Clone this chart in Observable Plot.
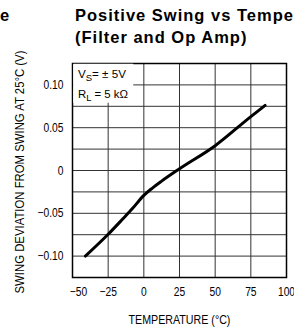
<!DOCTYPE html>
<html>
<head>
<meta charset="utf-8">
<script src="https://cdn.jsdelivr.net/npm/d3@7"></script>
<script src="https://cdn.jsdelivr.net/npm/@observablehq/plot@0.6"></script>
<style>
  html, body { margin: 0; padding: 0; background: #fff; overflow: hidden; }
  #wrap { position: relative; width: 294px; height: 331px; overflow: hidden; }
  .title { position: absolute; white-space: nowrap; font-family: "Liberation Sans", Arial, sans-serif;
           font-weight: bold; font-size: 16.5px; letter-spacing: 1px; line-height: 22.5px; color: #000; }
  #chart { position: absolute; left: 0; top: 0; }
</style>
</head>
<body>
<div id="wrap">
  <div id="chart"></div>
  <div class="title" style="left:75px; top:3.5px;">Positive Swing vs Temperature<br>(Filter and Op Amp)</div>
  <div class="title" style="left:0px; top:3.5px;">e</div>
</div>
<script>
// Data
const temperature = [-41, -25, -15, -8, 0, 6, 12, 25, 50, 75, 85];
const swingDeviation = [-0.100, -0.0745, -0.057, -0.0445, -0.029, -0.0205, -0.013, 0.002, 0.029, 0.063, 0.076];
const xTickValues = [-50, -25, 0, 25, 50, 75, 100];
const yTickValues = [-0.10, -0.05, 0, 0.05, 0.10];
const xGridValues = [-25, 0, 25, 50, 75];
const yGridValues = [-0.10, -0.075, -0.05, -0.025, 0, 0.025, 0.05, 0.075, 0.10];
const xLabel = "TEMPERATURE (°C)";
const yLabel = "SWING DEVIATION FROM SWING AT 25°C (V)";

const data = temperature.map((t, i) => ({t, v: swingDeviation[i]}));
const font = '"Liberation Sans", Arial, sans-serif';

const fmtY = d => d === 0 ? "0" : (d < 0 ? "\u2212" : "") + Math.abs(d).toFixed(2);
const fmtX = d => d < 0 ? "\u2212" + Math.abs(d) : String(d);

const plot = Plot.plot({
  width: 294,
  height: 331,
  marginLeft: 72,
  marginRight: 8,
  marginTop: 63,
  marginBottom: 54,
  x: {domain: [-50, 100]},
  y: {domain: [-0.125, 0.125]},
  style: {fontFamily: font, fontSize: "12.5px", color: "#000", background: "transparent"},
  marks: [
    Plot.gridX(xGridValues, {stroke: "#333", strokeOpacity: 1, strokeWidth: 1}),
    Plot.gridY(yGridValues, {stroke: "#333", strokeOpacity: 1, strokeWidth: 1}),
    Plot.line(data, {x: "t", y: "v", stroke: "#000", strokeWidth: 3, curve: "monotone-x"}),
    Plot.frame({stroke: "#000", strokeWidth: 1.5}),
    Plot.axisX(xTickValues, {tickSize: 0, tickPadding: 10, tickFormat: fmtX, label: null, fontSize: 12.5}),
    Plot.axisY(yTickValues, {tickSize: 0, tickPadding: 9, tickFormat: fmtY, label: null, fontSize: 12.5}),
    Plot.text([yLabel], {frameAnchor: "left", rotate: -90, dx: -52.5, dy: 1.5, fontSize: 12.5, lineAnchor: "middle", textAnchor: "middle", className: "ylab"}),
    Plot.text([xLabel], {frameAnchor: "bottom", dy: 42.5, fontSize: 12.5, lineAnchor: "middle", textAnchor: "middle", className: "xlab"})
  ]
});

document.getElementById("chart").appendChild(plot);
const svg = d3.select(plot);

// horizontally condense a text element about its own anchor point (x only)
function squeeze(el, s) {
  const ax = parseFloat(el.getAttribute("x")) || 0;
  const t = el.getAttribute("transform") || "";
  el.setAttribute("transform", `${t} translate(${ax},0) scale(${s},1) translate(${-ax},0)`);
}
function fitTo(el, w) { squeeze(el, w / el.getComputedTextLength()); }

svg.selectAll("g[aria-label$='tick label'] text").each(function() {
  if (this.textContent === "\u221250") {
    this.setAttribute("transform", (this.getAttribute("transform") || "") + " translate(6,0)");
  }
  squeeze(this, 0.82);
});
svg.selectAll(".ylab text").each(function() { fitTo(this, 243); });
svg.selectAll(".xlab text").each(function() { fitTo(this, 102); });

// Conditions box (top-left inside the frame)
const legend = svg.append("g")
  .attr("font-family", font).attr("font-size", 11).attr("fill", "#000").attr("text-anchor", "start");
legend.append("rect").attr("x", 73.25).attr("y", 63.75).attr("width", 60).attr("height", 39).attr("fill", "#fff");
const l1 = legend.append("text").attr("x", 78).attr("y", 78.5);
l1.append("tspan").text("V");
l1.append("tspan").attr("dy", 3).attr("font-size", 9).text("S");
l1.append("tspan").attr("dy", -3).text("= \u00b1 5V");
const l2 = legend.append("text").attr("x", 78).attr("y", 98.5);
l2.append("tspan").text("R");
l2.append("tspan").attr("dy", 3).attr("font-size", 9).text("L");
l2.append("tspan").attr("dy", -3).text(" = 5 k\u03a9");
fitTo(l1.node(), 48);
fitTo(l2.node(), 50);
</script>
</body>
</html>
